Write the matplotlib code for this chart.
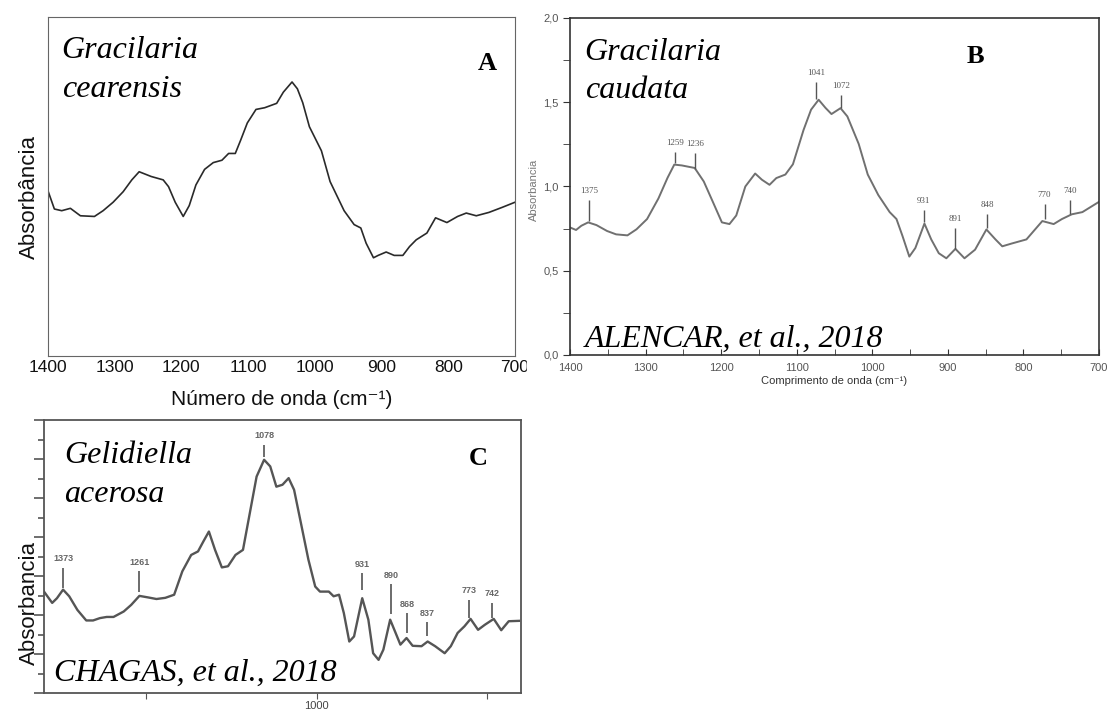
import matplotlib.pyplot as plt
from matplotlib.patches import Rectangle
from matplotlib.ticker import MultipleLocator

plt.rcParams['font.family'] = ['Liberation Sans', 'DejaVu Sans']

# --- panel A: Gracilaria cearensis (no y scale, relative units)
wn_a = [1400, 1390, 1379, 1366, 1351, 1330, 1317, 1302, 1287, 1274, 1263, 1245, 1227, 1219, 1209,
        1197, 1188, 1178, 1165, 1152, 1139, 1129, 1119, 1111, 1101, 1088, 1075, 1057, 1047, 1034,
        1026, 1018, 1008, 990, 977, 956, 941, 931, 923, 912, 905, 893, 881, 868, 858,
        848, 832, 819, 802, 786, 773, 758, 739, 719, 700]
abs_a = [0.49, 0.434, 0.429, 0.436, 0.414, 0.412, 0.429, 0.454, 0.485, 0.52, 0.544, 0.53, 0.52, 0.5, 0.454,
         0.412, 0.444, 0.505, 0.551, 0.571, 0.578, 0.598, 0.598, 0.637, 0.688, 0.728, 0.733, 0.746, 0.779, 0.809,
         0.789, 0.748, 0.677, 0.606, 0.515, 0.429, 0.388, 0.378, 0.333, 0.29, 0.297, 0.307, 0.297, 0.297, 0.323,
         0.343, 0.363, 0.408, 0.394, 0.412, 0.422, 0.414, 0.424, 0.439, 0.454]
ticks_a = [1400, 1300, 1200, 1100, 1000, 900, 800, 700]

# --- panel B: Gracilaria caudata (ALENCAR et al., 2018)
wn_b = [1400, 1392, 1385, 1376, 1365, 1351, 1339, 1324, 1312, 1298, 1283, 1271, 1262, 1252, 1235,
        1223, 1211, 1199, 1189, 1180, 1168, 1155, 1146, 1136, 1127, 1115, 1105, 1091, 1081, 1071,
        1062, 1054, 1042, 1033, 1018, 1006, 992, 977, 968, 960, 951, 943, 931, 922, 912,
        902, 890, 878, 864, 849, 837, 828, 816, 796, 775, 760, 749, 736, 722, 700]
abs_b = [0.757, 0.742, 0.767, 0.787, 0.771, 0.736, 0.716, 0.71, 0.746, 0.807, 0.929, 1.051, 1.13, 1.125, 1.11,
         1.03, 0.909, 0.787, 0.777, 0.828, 1.0, 1.077, 1.04, 1.01, 1.05, 1.071, 1.132, 1.335, 1.456, 1.515,
         1.467, 1.43, 1.465, 1.416, 1.253, 1.071, 0.949, 0.848, 0.807, 0.706, 0.584, 0.635, 0.78, 0.686, 0.604,
         0.574, 0.63, 0.574, 0.625, 0.745, 0.686, 0.645, 0.661, 0.686, 0.795, 0.777, 0.807, 0.835, 0.848, 0.909]
yticks_b = [0, 0.5, 1.0, 1.5, 2.0]
ylabels_b = ['0,0', '0,5', '1,0', '1,5', '2,0']
peak_x_b = [1375, 1261, 1234, 1074, 1041, 932, 890, 848, 772, 738]
peak_lo_b = [0.797, 1.142, 1.101, 1.517, 1.467, 0.787, 0.629, 0.751, 0.807, 0.838]
peak_hi_b = [0.919, 1.207, 1.197, 1.619, 1.542, 0.858, 0.751, 0.838, 0.897, 0.919]
peak_txt_b = ['1375', '1259', '1236', '1041', '1072', '931', '891', '848', '770', '740']

# --- panel C: Gelidiella acerosa (CHAGAS et al., 2018)
wn_c = [1400, 1388, 1381, 1372, 1363, 1351, 1338, 1328, 1318, 1308, 1298, 1283, 1272, 1260, 1247,
        1235, 1222, 1209, 1197, 1184, 1174, 1166, 1158, 1149, 1139, 1130, 1119, 1108, 1098, 1088,
        1077, 1068, 1059, 1050, 1041, 1033, 1023, 1012, 1002, 995, 982, 975, 967, 960, 952,
        945, 933, 924, 917, 909, 902, 892, 884, 877, 868, 859, 846, 837, 826, 812,
        803, 793, 783, 774, 763, 753, 740, 729, 718, 703]
abs_c = [2.60, 2.31, 2.43, 2.65, 2.48, 2.13, 1.86, 1.86, 1.92, 1.95, 1.95, 2.09, 2.26, 2.49, 2.45,
         2.41, 2.44, 2.52, 3.12, 3.54, 3.63, 3.89, 4.14, 3.67, 3.22, 3.25, 3.54, 3.67, 4.61, 5.55,
         5.98, 5.81, 5.29, 5.34, 5.51, 5.21, 4.36, 3.42, 2.73, 2.60, 2.60, 2.48, 2.52, 2.05, 1.32,
         1.45, 2.43, 1.88, 1.02, 0.85, 1.11, 1.88, 1.54, 1.24, 1.41, 1.21, 1.20, 1.32, 1.20, 1.02,
         1.20, 1.54, 1.71, 1.90, 1.62, 1.75, 1.90, 1.61, 1.84, 1.85]
peak_x_c = [1372, 1260, 1077, 933, 891, 867, 838, 776, 742]
peak_lo_c = [2.70, 2.58, 6.04, 2.65, 2.02, 1.54, 1.46, 1.92, 1.92]
peak_hi_c = [3.21, 3.12, 6.36, 3.07, 2.79, 2.04, 1.81, 2.39, 2.32]
peak_txt_c = ['1373', '1261', '1078', '931', '890', '868', '837', '773', '742']

W, H = 1110, 711


def box(l, t, r, b):
    return [l / W, 1 - b / H, (r - l) / W, (b - t) / H]


fig = plt.figure(figsize=(11.1, 7.11), dpi=100)
serif = 'Liberation Serif'
big = 23

# ---------------- A
axA = fig.add_axes(box(47.7, 17.3, 515, 356))
axA.plot(wn_a, abs_a, color='#2a2a2a', lw=1.2)
axA.set_xlim(1400, 700)
axA.set_ylim(0, 1)
axA.set_xticks(ticks_a)
axA.set_yticks([])
axA.tick_params(axis='x', length=0, pad=3, labelsize=12.5, labelcolor='#111')
for s in axA.spines.values():
    s.set_color('#666')
axA.set_xlabel('Número de onda (cm⁻¹)', fontsize=15, color='#111')
axA.xaxis.set_label_coords(0.5, -0.1)
axA.set_ylabel('Absorbância', fontsize=16, color='#111')
axA.yaxis.set_label_coords(-0.016, 0.47)
axA.text(0.03, 0.88, 'Gracilaria', transform=axA.transAxes, family=serif, style='italic', fontsize=big)
axA.text(0.03, 0.764, 'cearensis', transform=axA.transAxes, family=serif, style='italic', fontsize=big)
axA.text(0.94, 0.865, 'A', transform=axA.transAxes, family=serif, weight='bold', fontsize=19,
         ha='center', va='center')

# white background of panel B hides the end of A's tick labels
fig.add_artist(Rectangle((527 / W, 1 - 385 / H), 1 - 527 / W, 385 / H,
                         transform=fig.transFigure, color='white', zorder=0.5))

# ---------------- B
axB = fig.add_axes(box(570, 18, 1099, 355))
axB.set_zorder(1)
axB.plot(wn_b, abs_b, color='#707070', lw=1.4)
axB.set_xlim(1400, 700)
axB.set_ylim(0, 2)
axB.xaxis.set_major_locator(MultipleLocator(100))
axB.xaxis.set_minor_locator(MultipleLocator(50))
axB.set_yticks(yticks_b)
axB.set_yticklabels(ylabels_b)
axB.yaxis.set_minor_locator(MultipleLocator(0.25))
axB.tick_params(axis='x', which='both', direction='in', length=4, pad=6, labelsize=8, labelcolor='#555', color='#333')
axB.tick_params(axis='y', which='both', direction='out', length=5, pad=3, labelsize=8, labelcolor='#555', color='#333')
for s in axB.spines.values():
    s.set_color('#333')
    s.set_linewidth(1.2)
axB.set_xlabel('Comprimento de onda (cm⁻¹)', fontsize=8, color='#333')
axB.xaxis.set_label_coords(0.5, -0.062)
axB.set_ylabel('Absorbancia', fontsize=8, color='#777')
axB.yaxis.set_label_coords(-0.058, 0.49)
axB.vlines(peak_x_b, peak_lo_b, peak_hi_b, color='#555', lw=1)
for x, y, t in zip(peak_x_b, peak_hi_b, peak_txt_b):
    axB.text(x, y + 0.03, t, ha='center', va='bottom', family=serif, fontsize=6.5, color='#555')
axB.text(0.0275, 0.875, 'Gracilaria', transform=axB.transAxes, family=serif, style='italic', fontsize=big)
axB.text(0.0275, 0.764, 'caudata', transform=axB.transAxes, family=serif, style='italic', fontsize=big)
axB.text(0.0275, 0.025, 'ALENCAR, et al., 2018', transform=axB.transAxes, family=serif, style='italic', fontsize=big)
axB.text(0.766, 0.885, 'B', transform=axB.transAxes, family=serif, weight='bold', fontsize=19,
         ha='center', va='center')

# ---------------- C
axC = fig.add_axes(box(44, 420, 521, 693))
axC.plot(wn_c, abs_c, color='#555', lw=1.7)
axC.set_xlim(1400, 700)
axC.set_ylim(0, 7)
axC.set_xticks([1250, 1000, 750])
axC.set_xticklabels(['', '1000', ''])
axC.yaxis.set_major_locator(MultipleLocator(1))
axC.yaxis.set_minor_locator(MultipleLocator(0.5))
axC.set_yticklabels([])
axC.tick_params(axis='x', direction='out', length=4, pad=2, labelsize=8, labelcolor='#444', color='#555')
axC.tick_params(axis='y', which='major', direction='out', length=7, color='#555', width=1.2)
axC.tick_params(axis='y', which='minor', direction='out', length=4, color='#555', width=1.2)
for s in axC.spines.values():
    s.set_color('#555')
    s.set_linewidth(1.3)
axC.set_ylabel('Absorbancia', fontsize=16, color='#111')
axC.yaxis.set_label_coords(-0.008, 0.33)
axC.vlines(peak_x_c, peak_lo_c, peak_hi_c, color='#444', lw=1.1)
for x, y, t in zip(peak_x_c, peak_hi_c, peak_txt_c):
    axC.text(x, y + 0.12, t, ha='center', va='bottom', fontsize=6.5, color='#666', weight='bold')
axC.text(0.042, 0.841, 'Gelidiella', transform=axC.transAxes, family=serif, style='italic', fontsize=big)
axC.text(0.042, 0.701, 'acerosa', transform=axC.transAxes, family=serif, style='italic', fontsize=big)
axC.text(0.02, 0.043, 'CHAGAS, et al., 2018', transform=axC.transAxes, family=serif, style='italic', fontsize=big)
axC.text(0.91, 0.86, 'C', transform=axC.transAxes, family=serif, weight='bold', fontsize=19,
         ha='center', va='center')

fig.savefig('out.png', dpi=100)
